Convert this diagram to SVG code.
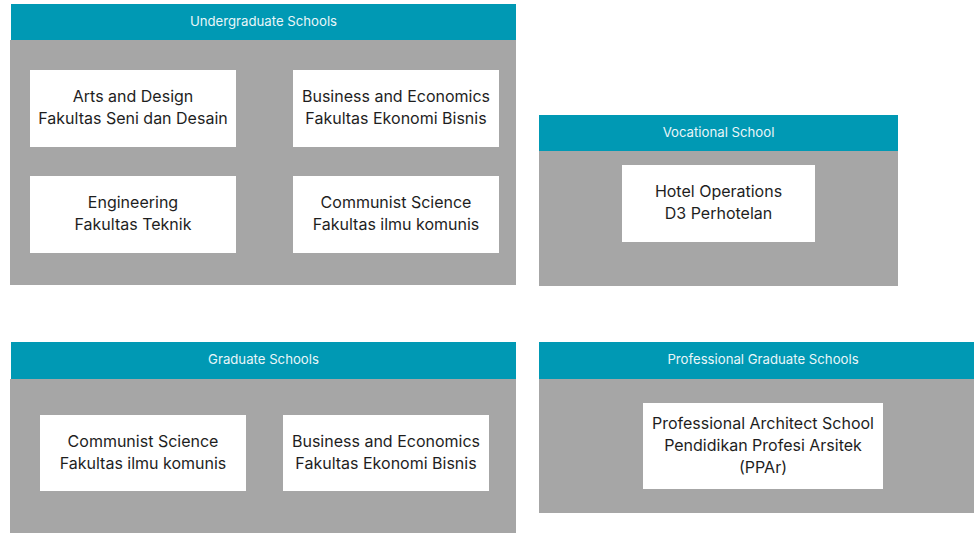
<svg xmlns="http://www.w3.org/2000/svg" width="974" height="533" viewBox="0 0 974 533">
<style>
.hdr{fill:#0099B4}
.body{fill:#A6A6A6}
.box{fill:#FFFFFF}
.ht{font-family:"Inter","Liberation Sans",sans-serif;font-size:13.2px;fill:#E9F6F9;text-anchor:middle}
.bt{font-family:"Inter","Liberation Sans",sans-serif;font-size:16px;fill:#1E1E1E;text-anchor:middle}
</style>
<rect width="974" height="533" fill="#FFFFFF"/>
<g id="undergraduate">
<rect class="body" x="10" y="40" width="506" height="245"/>
<rect class="hdr" x="11" y="4" width="505" height="36"/>
<text class="ht" x="263.5" y="25.5">Undergraduate Schools</text>
</g>
<g id="ug-arts">
<rect class="box" x="30" y="70" width="206" height="77"/>
<text class="bt" x="133" y="101.5">Arts and Design</text>
<text class="bt" x="133" y="123.5">Fakultas Seni dan Desain</text>
</g>
<g id="ug-business">
<rect class="box" x="293" y="70" width="206" height="77"/>
<text class="bt" x="396" y="101.5">Business and Economics</text>
<text class="bt" x="396" y="123.5">Fakultas Ekonomi Bisnis</text>
</g>
<g id="ug-engineering">
<rect class="box" x="30" y="176" width="206" height="77"/>
<text class="bt" x="133" y="207.5">Engineering</text>
<text class="bt" x="133" y="229.5">Fakultas Teknik</text>
</g>
<g id="ug-communist">
<rect class="box" x="293" y="176" width="206" height="77"/>
<text class="bt" x="396" y="207.5">Communist Science</text>
<text class="bt" x="396" y="229.5">Fakultas ilmu komunis</text>
</g>
<g id="vocational">
<rect class="body" x="539" y="151" width="359" height="135"/>
<rect class="hdr" x="539" y="115" width="359" height="36"/>
<text class="ht" x="718.5" y="137">Vocational School</text>
</g>
<g id="voc-hotel">
<rect class="box" x="622" y="165" width="193" height="77"/>
<text class="bt" x="718.5" y="197">Hotel Operations</text>
<text class="bt" x="718.5" y="219">D3 Perhotelan</text>
</g>
<g id="graduate">
<rect class="body" x="10" y="379" width="506" height="160"/>
<rect class="hdr" x="11" y="342" width="505" height="37"/>
<text class="ht" x="263.5" y="364">Graduate Schools</text>
</g>
<g id="gr-communist">
<rect class="box" x="40" y="415" width="206" height="76"/>
<text class="bt" x="143" y="446.5">Communist Science</text>
<text class="bt" x="143" y="468.5">Fakultas ilmu komunis</text>
</g>
<g id="gr-business">
<rect class="box" x="283" y="415" width="206" height="76"/>
<text class="bt" x="386" y="446.5">Business and Economics</text>
<text class="bt" x="386" y="468.5">Fakultas Ekonomi Bisnis</text>
</g>
<g id="professional">
<rect class="body" x="539" y="379" width="448" height="134"/>
<rect class="hdr" x="539" y="342" width="448" height="37"/>
<text class="ht" x="763" y="364">Professional Graduate Schools</text>
</g>
<g id="pro-architect">
<rect class="box" x="643" y="403" width="240" height="86"/>
<text class="bt" x="763" y="428.5">Professional Architect School</text>
<text class="bt" x="763" y="450.5">Pendidikan Profesi Arsitek</text>
<text class="bt" x="763" y="472.5">(PPAr)</text>
</g>
<g id="connectors"></g>
</svg>
